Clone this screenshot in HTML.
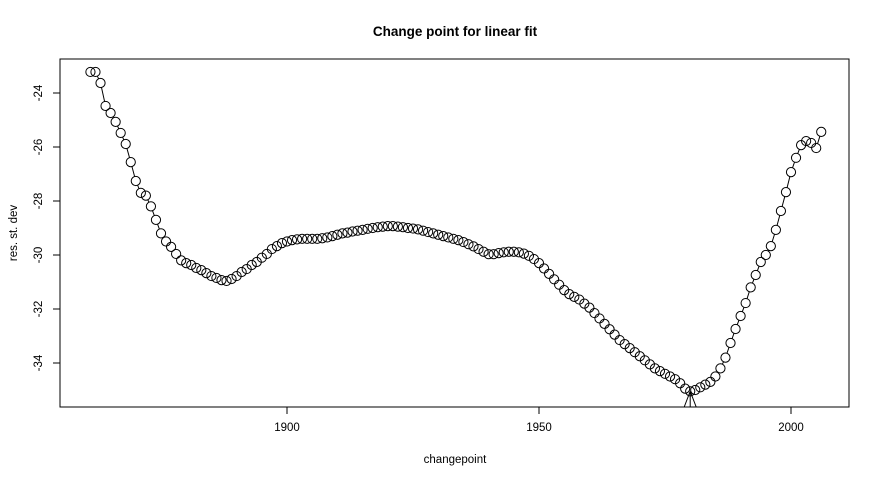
<!DOCTYPE html>
<html><head><meta charset="utf-8"><style>
body{margin:0;background:#fff}
svg{display:block;font-family:"Liberation Sans",Arial,sans-serif}
</style></head><body>
<svg id="chart" width="880" height="480" xmlns="http://www.w3.org/2000/svg">
<text x="455" y="36" text-anchor="middle" font-weight="bold" font-size="13.5">Change point for linear fit</text>
<rect x="60" y="59" width="789" height="348" fill="none" stroke="#000"/>
<text x="455" y="463" text-anchor="middle" font-size="11.5">changepoint</text>
<text transform="translate(17,233) rotate(-90)" text-anchor="middle" font-size="11.5">res. st. dev</text>
<g id="axes"></g>
<g id="marks"></g>
</svg>
<script>
const years=[];for(let y=1861;y<=2006;y++)years.push(y);
const values=[-23.22,-23.22,-23.63,-24.48,-24.74,-25.07,-25.48,-25.89,-26.56,-27.26,-27.70,-27.80,-28.20,-28.70,-29.20,-29.50,-29.70,-29.96,-30.20,-30.30,-30.37,-30.48,-30.56,-30.67,-30.78,-30.85,-30.93,-30.96,-30.89,-30.78,-30.63,-30.52,-30.37,-30.26,-30.10,-29.96,-29.78,-29.67,-29.56,
-29.50,-29.45,-29.42,-29.40,-29.40,-29.40,-29.40,-29.38,-29.35,-29.30,-29.25,-29.20,-29.17,-29.13,-29.10,-29.07,-29.03,-29.00,-28.97,-28.95,-28.93,-28.93,-28.95,-28.97,-29.00,-29.02,-29.05,-29.10,-29.15,-29.20,-29.25,-29.30,-29.35,-29.40,-29.45,-29.52,-29.60,-29.68,-29.78,-29.88,-29.97,-29.97,-29.93,-29.90,-29.88,-29.88,-29.90,-29.95,-30.03,-30.15,
-30.30,-30.50,-30.70,-30.90,-31.10,-31.30,-31.45,-31.55,-31.65,-31.80,-31.95,-32.15,-32.35,-32.55,-32.75,-32.95,-33.15,-33.30,-33.45,-33.60,-33.75,-33.90,-34.05,-34.20,-34.30,-34.40,-34.50,-34.60,-34.75,-34.95,-35.05,
-35.00,-34.90,-34.80,-34.70,-34.50,-34.20,-33.80,-33.26,-32.74,-32.26,-31.78,-31.20,-30.74,-30.26,-30.00,-29.67,-29.07,-28.37,-27.67,-26.93,-26.40,-25.93,-25.78,-25.85,-26.04,-25.44];
const xTicks=[1900,1950,2000];
const yTicks=[-24,-26,-28,-30,-32,-34];
const changeYear=1980;
const NS="http://www.w3.org/2000/svg";
const X=v=>287+(v-1900)*5.04;
const Y=v=>93+(-24-v)*27;
function mk(t,a,p){const e=document.createElementNS(NS,t);for(const k in a)e.setAttribute(k,a[k]);p.appendChild(e);return e;}
const axes=document.getElementById('axes'),marks=document.getElementById('marks');
xTicks.forEach(t=>{
 const l=mk('line',{x1:X(t),x2:X(t),y1:407,y2:414,stroke:'#000'},axes);
 
 
 const tx=mk('text',{x:X(t),y:431,'text-anchor':'middle','font-size':11.5},axes);tx.textContent=t;
 
 
});
mk('line',{x1:X(1900),x2:X(2000),y1:407,y2:407,stroke:'#000'},axes);
yTicks.forEach(t=>{
 const l=mk('line',{x1:53,x2:60,y1:Y(t),y2:Y(t),stroke:'#000'},axes);
 
 
 const tx=mk('text',{transform:`translate(42,${Y(t)}) rotate(-90)`,'text-anchor':'middle','font-size':11.5},axes);tx.textContent=t;
 
 
});
mk('line',{x1:60,x2:60,y1:Y(-24),y2:Y(-34),stroke:'#000'},axes);
const pts=years.map((y,i)=>X(y)+','+Y(values[i])).join(' ');
const pl=mk('polyline',{points:pts,fill:'none',stroke:'#000','stroke-width':1},marks);


years.forEach((y,i)=>{
 const c=mk('circle',{cx:X(y),cy:Y(values[i]),r:4.6,fill:'#fff',stroke:'none'},marks);
 
 
});
years.forEach((y,i)=>{
 const c=mk('circle',{cx:X(y),cy:Y(values[i]),r:4.6,fill:'none',stroke:'#000','stroke-width':1},marks);
 
 
});
const ci=years.indexOf(changeYear);
const cx=X(changeYear),cy=Y(values[ci]);
const ar=mk('path',{d:`M${cx},${cy} L${cx},407 M${cx},${cy} L${cx-6},407 M${cx},${cy} L${cx+6},407`,stroke:'#000',fill:'none'},marks);


</script>
</body></html>
